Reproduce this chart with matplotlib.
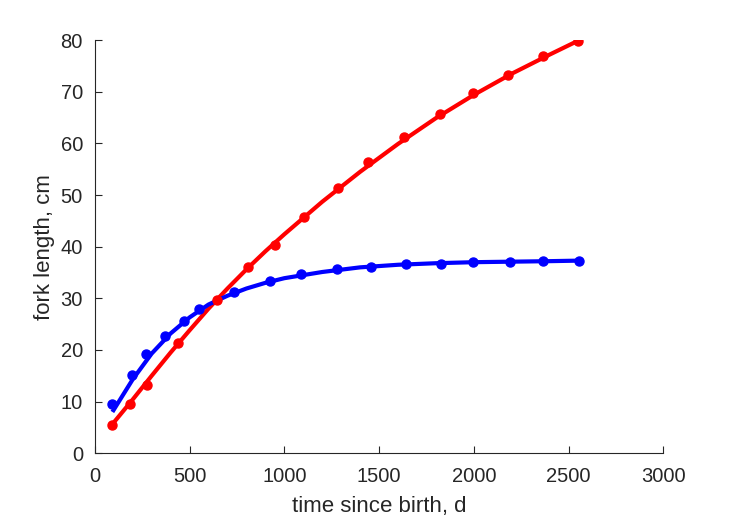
import matplotlib
matplotlib.use("Agg")
import matplotlib.pyplot as plt

# measured points (dots)
red_t = [90, 188, 273, 437, 643, 810, 951, 1106, 1285, 1443, 1634, 1822, 1993, 2180, 2365, 2551]
red_L = [5.4, 9.5, 13.2, 21.4, 29.6, 36.0, 40.4, 45.8, 51.4, 56.4, 61.3, 65.6, 69.7, 73.3, 77.0, 79.9]
blue_t = [93, 197, 269, 370, 470, 549, 734, 924, 1090, 1276, 1456, 1641, 1826, 1995, 2190, 2367, 2553]
blue_L = [9.6, 15.1, 19.3, 22.7, 25.6, 28.0, 31.2, 33.4, 34.7, 35.7, 36.1, 36.6, 36.7, 37.1, 37.1, 37.2, 37.2]

# fitted curves
red_fit_t = [90, 200, 300, 400, 500, 600, 700, 800, 900, 1000, 1200, 1400, 1600, 1800, 2000, 2200, 2400, 2551]
red_fit_L = [5.5, 10.4, 15.0, 19.5, 23.8, 28.0, 31.9, 35.6, 39.1, 42.4, 48.7, 54.5, 59.9, 64.9, 69.4, 73.5, 77.2, 79.9]
blue_fit_t = [93, 200, 300, 400, 500, 600, 700, 800, 900, 1000, 1200, 1400, 1600, 1800, 2000, 2200, 2400, 2553]
blue_fit_L = [8.0, 14.3, 19.3, 23.2, 26.3, 28.8, 30.5, 31.9, 33.0, 33.9, 35.1, 36.0, 36.5, 36.8, 37.0, 37.1, 37.2, 37.3]

plt.rcParams['font.family'] = ['Liberation Sans', 'DejaVu Sans']
grey = '#262626'

fig = plt.figure(figsize=(7.29, 5.21), dpi=100)
ax = fig.add_axes([0.13, 0.13, 0.78, 0.793])

ax.plot(red_fit_t, red_fit_L, color='red', lw=3, solid_capstyle='butt')
ax.plot(blue_fit_t, blue_fit_L, color='blue', lw=3, solid_capstyle='butt')
ax.plot(red_t, red_L, 'o', color='red', ms=6.5)
ax.plot(blue_t, blue_L, 'o', color='blue', ms=6.5)

ax.set_xlim(0, 3000)
ax.set_ylim(0, 80)
ax.set_xticks(range(0, 3001, 500))
ax.set_yticks(range(0, 81, 10))
ax.spines['top'].set_visible(False)
ax.spines['right'].set_visible(False)
for s in ['left', 'bottom']:
    ax.spines[s].set_color(grey)
    ax.spines[s].set_linewidth(0.8)
ax.tick_params(direction='in', length=5, width=0.8, color=grey, labelcolor=grey, labelsize=14.5)
ax.tick_params(axis='x', pad=10)
ax.tick_params(axis='y', pad=8.5)
ax.set_xlabel('time since birth, d', fontsize=16, color=grey, labelpad=7)
ax.set_ylabel('fork length, cm', fontsize=16, color=grey, labelpad=4)

fig.savefig('out.png', dpi=100)
